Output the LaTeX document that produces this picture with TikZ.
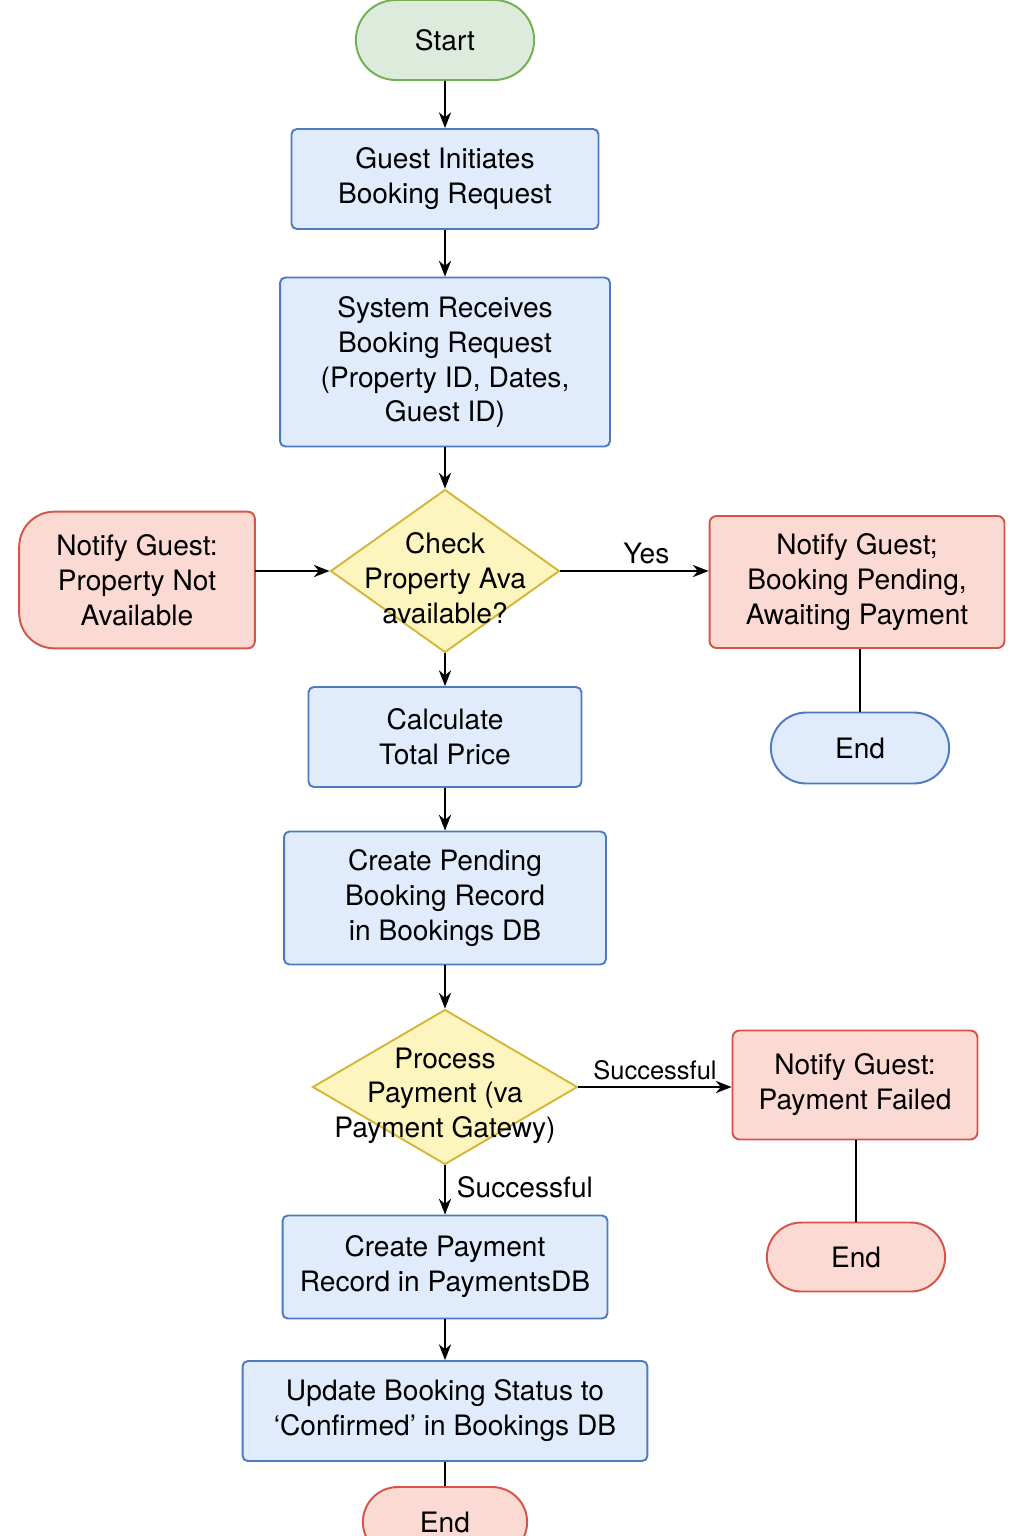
\documentclass[tikz,border=0pt]{standalone}
\usepackage{fontspec}
\setmainfont{TeX Gyre Heros}
\usepackage{xcolor}
\usepackage{tikz}
\usetikzlibrary{shapes.geometric,shapes.misc,arrows.meta,backgrounds}

\definecolor{bluefill}{HTML}{E0ECFC}
\definecolor{blueline}{HTML}{4E7AC0}
\definecolor{redfill}{HTML}{FCDAD4}
\definecolor{redline}{HTML}{D65348}
\definecolor{yelfill}{HTML}{FDF5BE}
\definecolor{yelline}{HTML}{D3B63A}
\definecolor{grnfill}{HTML}{DCEBDB}
\definecolor{grnline}{HTML}{72AE52}

\begin{document}
\begin{tikzpicture}[x=0.02cm, y=-0.02cm,
    every node/.style={font=\fontsize{16}{19.9}\selectfont, align=center},
    process/.style={rectangle, rounded corners=3pt, draw=blueline, fill=bluefill, line width=1.1pt},
    notify/.style={rectangle, rounded corners=4pt, draw=redline, fill=redfill, line width=1.1pt},
    decision/.style={diamond, draw=yelline, fill=yelfill, line width=1.1pt, inner sep=0pt},
    terminal/.style={rounded rectangle, line width=1.1pt},
    arr/.style={-{Stealth[length=9pt,width=7pt]}, line width=0.95pt},
    link/.style={line width=0.95pt}]
  \useasboundingbox (0,0) rectangle (1024,1536);

  % main column
  \node[terminal, draw=grnline, fill=grnfill, minimum width=3.8cm, minimum height=1.6cm] (start) at (445,40) {Start};
  \node[process, minimum width=6.14cm, minimum height=2cm] (gir) at (445,179) {Guest Initiates\\Booking Request};
  \node[process, minimum width=6.6cm, minimum height=3.38cm] (sys) at (445,362) {System Receives\\Booking Request\\(Property ID, Dates,\\Guest ID)};
  \node[decision, minimum width=4.58cm, minimum height=3.26cm,
        label={[yshift=-4pt]center:Check\\Property Ava\\available?}] (chk) at (445,571) {};
  \node[process, minimum width=5.46cm, minimum height=2cm] (calc) at (445,737) {Calculate\\Total Price};
  \node[process, minimum width=6.44cm, minimum height=2.66cm] (cpb) at (445,898) {Create Pending\\Booking Record\\in Bookings DB};
  \node[decision, minimum width=5.3cm, minimum height=3.1cm,
        label={[yshift=-5pt]center:Process\\Payment (va\\Payment Gatewy)}] (pay) at (445,1087) {};
  \node[process, minimum width=6.5cm, minimum height=2.06cm] (cpr) at (445,1267) {Create Payment\\Record in PaymentsDB};
  \node[process, minimum width=8.1cm, minimum height=2cm] (upd) at (445,1411) {Update Booking Status to\\‘Confirmed’ in Bookings DB};
  \node[terminal, draw=redline, fill=redfill, minimum width=3.52cm, minimum height=1.4cm] (endC) at (445,1522) {End};

  % side branches
  \node[minimum width=4.7cm, minimum height=2.72cm] (nna) at (137,580) {Notify Guest:\\Property Not\\Available};
  \node[notify, minimum width=5.9cm, minimum height=2.64cm] (pend) at (857,582) {Notify Guest;\\Booking Pending,\\Awaiting Payment};
  \node[terminal, draw=blueline, fill=bluefill, minimum width=3.8cm, minimum height=1.42cm] (endA) at (860,748) {End};
  \node[notify, minimum width=4.9cm, minimum height=2.18cm] (fail) at (855,1085) {Notify Guest:\\Payment Failed};
  \node[terminal, draw=redline, fill=redfill, minimum width=3.8cm, minimum height=1.38cm] (endB) at (856,1257) {End};

  % odd outline of the not-available box
  \begin{scope}[on background layer]
    \path[fill=redfill, draw=redline, line width=1.1pt, rounded corners=4pt]
      (nna.north east) -- (nna.south east) [rounded corners=20pt] -- (nna.south west)
      -- (nna.north west) [rounded corners=4pt] -- cycle;
  \end{scope}

  \draw[arr] (start) -- (gir);
  \draw[arr] (gir) -- (sys);
  \draw[arr] (sys) -- (chk);
  \draw[arr] (nna.east |- chk.west) -- (chk.west);
  \draw[arr] (chk.east) -- node[above, pos=0.58] {Yes} (chk.east -| pend.west);
  \draw[link] (endA.north |- pend.south) -- (endA.north);
  \draw[arr] (chk) -- (calc);
  \draw[arr] (calc) -- (cpb);
  \draw[arr] (cpb) -- (pay);
  \draw[arr] (pay.east) -- node[above, font=\fontsize{14.5}{17}\selectfont, pos=0.5] {Successful} (pay.east -| fail.west);
  \draw[link] (endB.north |- fail.south) -- (endB.north);
  \draw[arr] (pay.south) -- node[right, xshift=3pt, pos=0.45] {Successful} (cpr.north);
  \draw[arr] (cpr) -- (upd);
  \draw[link] (upd) -- (endC);
\end{tikzpicture}
\end{document}
